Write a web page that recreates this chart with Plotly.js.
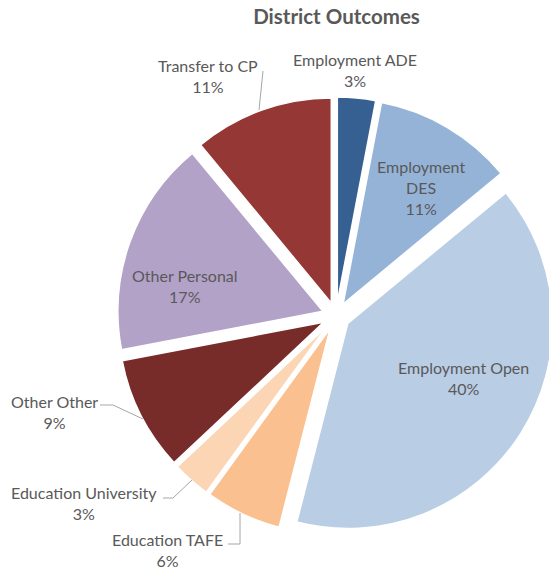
<!DOCTYPE html>
<html><head><meta charset="utf-8">
<script src="https://cdn.plot.ly/plotly-3.0.1.min.js"></script>
<style>html,body{margin:0;padding:0;overflow:hidden;background:#fff}#chart{width:560px;height:571px}</style>
</head><body><div id="chart"></div>
<script>
// ---- data ----
const categories = ["Employment ADE","Employment DES","Employment Open","Education TAFE","Education University","Other Other","Other Personal","Transfer to CP"];
const values = [3, 11, 40, 6, 3, 9, 17, 11];
const colors = ["#376092","#95B3D7","#B9CDE5","#FAC090","#FCD5B5","#772C2A","#B3A2C7","#953735"];
const labelTexts = ["Employment ADE","Employment<br>DES","Employment Open","Education TAFE","Education University","Other Other","Other Personal","Transfer to CP"];
const titleText = "District Outcomes";

// ---- layout helpers (pixels -> paper) ----
const W = 560, H = 571;
const px = x => x / W, py = y => 1 - y / H;
const FONT = "Lato, 'Open Sans', sans-serif";
const TXT = "#595959";

// pie geometry
const cx = 336, cy = 316, R = 205, PULL = 0.068;
const half = R * (1 + PULL);
const domain = {x: [px(cx - half), px(cx + half)], y: [py(cy + half), py(cy - half)]};

// label placement (pixel centres of label blocks)
const labelPos = [[355,70],[421,187],[463.5,378],[167.5,550],[84,503],[54,411.5],[185,286],[208,76]];
const total = values.reduce((a,b)=>a+b,0);
const annotations = categories.map((c,i)=>({
  xref:'paper', yref:'paper', x: px(labelPos[i][0]), y: py(labelPos[i][1]),
  xanchor:'center', yanchor:'middle', showarrow:false, align:'center',
  text: labelTexts[i] + '<br>' + Math.round(values[i]/total*100) + '%',
  font:{family:FONT, size:16, color:TXT}
}));

// leader lines
const leaderPts = [
  [[263,71],[259,110]],
  [[100,405],[113,405],[143,419]],
  [[163,498],[173,498],[192,480]],
  [[228,544],[240,544],[240,513]]
];
const shapes = leaderPts.map(p=>({
  type:'path', xref:'paper', yref:'paper',
  path: p.map((q,k)=>(k?'L':'M')+px(q[0])+','+py(q[1])).join(' '),
  line:{color:'#A6A6A6', width:1}
}));

const trace = {
  type:'pie', labels:categories, values:values, sort:false,
  direction:'clockwise', rotation:0,
  marker:{colors:colors, line:{color:'#ffffff', width:1.5}},
  pull:PULL, textinfo:'none', hoverinfo:'label+percent',
  domain:domain, showlegend:false
};

const layout = {
  width:W, height:H, margin:{l:0,r:0,t:0,b:0},
  paper_bgcolor:'#fff', plot_bgcolor:'#fff', showlegend:false,
  title:{text:'<b>'+titleText+'</b>', x:px(336.5), xanchor:'center', y:py(17), yanchor:'middle',
         font:{family:FONT, size:20.5, color:TXT}},
  annotations:annotations, shapes:shapes
};
Plotly.newPlot('chart',[trace],layout,{displayModeBar:false,staticPlot:true});
</script></body></html>
